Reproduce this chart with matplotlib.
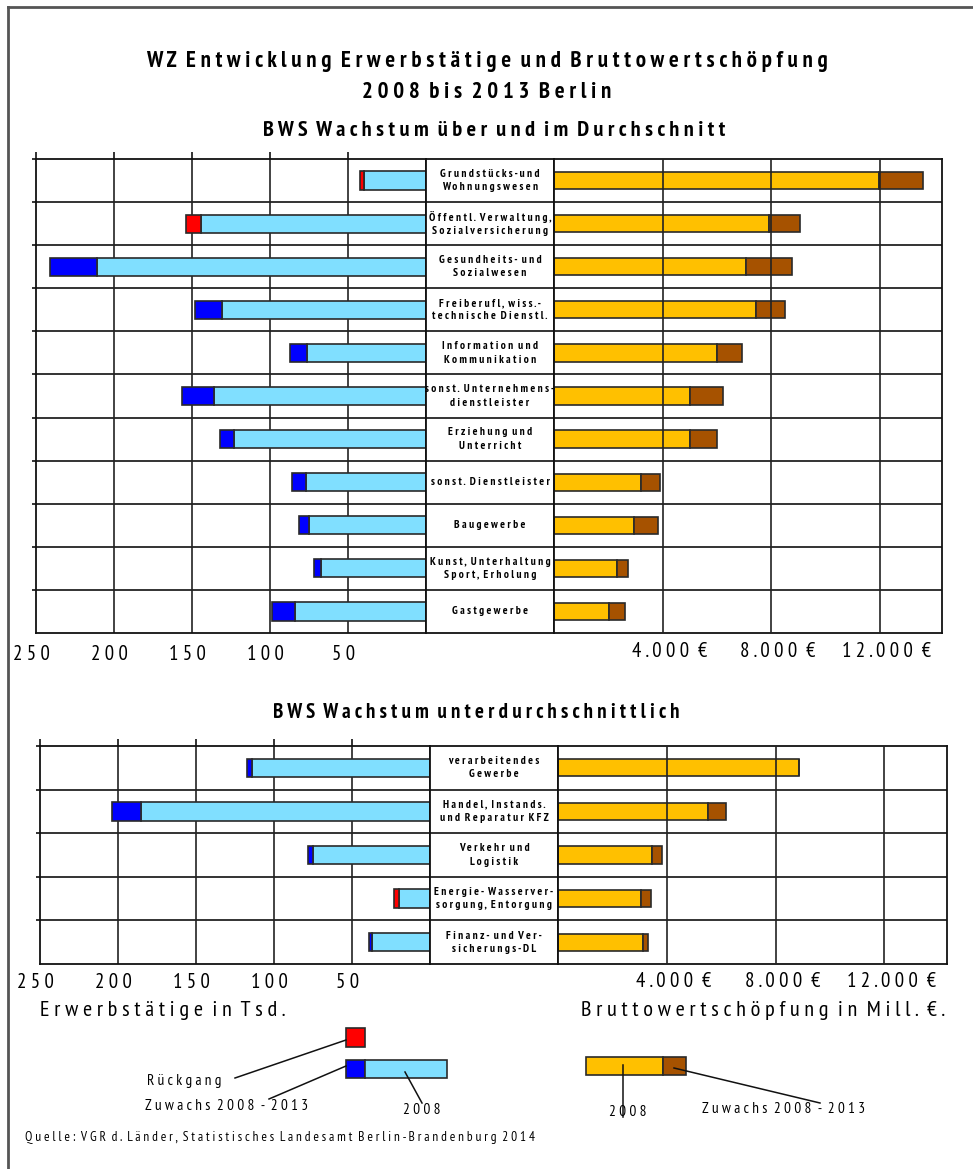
import matplotlib
matplotlib.use('Agg')
import matplotlib.pyplot as plt
from matplotlib import font_manager
import matplotlib.patheffects as pe
import numpy as np

# fonts: look for a narrow / condensed sans (with a bold cut if possible)
entries = font_manager.fontManager.ttflist


def wnum(w):
    if isinstance(w, str):
        return font_manager.weight_dict.get(w, 400)
    return int(w)


groups = {}
for f in entries:
    if 'Narrow' in f.name or 'Condensed' in f.name:
        groups.setdefault(f.name, []).append(wnum(f.weight))
FONT, fs, HAS_BOLD = ['Liberation Sans', 'DejaVu Sans'], 0.82, True
if groups:
    ranked = sorted(groups, key=lambda k: ('Narrow' not in k, max(groups[k]) < 600, k))
    best = ranked[0]
    FONT, fs = [best, 'DejaVu Sans'], 1.0
    HAS_BOLD = max(groups[best]) >= 600
plt.rcParams['font.family'] = FONT

# ---- data ----
top_labels = ['Grundstücks-und\nWohnungswesen', 'Öffentl. Verwaltung,\nSozialversicherung',
              'Gesundheits- und\nSozialwesen', 'Freiberufl, wiss.-\ntechnische Dienstl.',
              'Information und\nKommunikation', 'sonst. Unternehmens-\ndienstleister',
              'Erziehung und\nUnterricht', 'sonst. Dienstleister', 'Baugewerbe',
              'Kunst, Unterhaltung\nSport, Erholung', 'Gastgewerbe']
top_erw_2008 = [40, 144, 211, 131, 76, 136, 123, 77, 75, 67, 84]
top_erw_diff = [-2, -10, 30, 17, 11.5, 20.5, 9, 9, 6.5, 4.5, 15]
top_bws_2008 = [11960, 7940, 7060, 7440, 6020, 5030, 5030, 3210, 2960, 2310, 2030]
top_bws_diff = [1640, 1110, 1730, 1080, 900, 1190, 960, 680, 860, 410, 600]

bot_labels = ['verarbeitendes\nGewerbe', 'Handel, Instands.\nund Reparatur KFZ',
              'Verkehr und\nLogistik', 'Energie- Wasserver-\nsorgung, Entorgung',
              'Finanz- und Ver-\nsicherungs-DL']
bot_erw_2008 = [114, 185, 75, 20, 37]
bot_erw_diff = [3, 19, 3, -3, 2.3]
bot_bws_2008 = [8870, 5500, 3460, 3050, 3130]
bot_bws_diff = [0, 660, 370, 370, 180]

erw_ticks = [250, 200, 150, 100, 50]
bws_ticks = [4000, 8000, 12000]
bws_tick_labels = ['4.000 €', '8.000 €', '12.000 €']

LIGHT = '#80DFFF'
BLUE = '#0000FF'
RED = '#FF0000'
YELLOW = '#FFC000'
BROWN = '#A65200'
EDGE = '#2a2a2a'

W, H = 973, 1169
fig = plt.figure(figsize=(W / 100, H / 100), dpi=100)

# bold text style (stroke a little if the condensed font has no bold cut)
BOLD = dict(fontweight='bold')
if not HAS_BOLD:
    BOLD['path_effects'] = [pe.withStroke(linewidth=0.7, foreground='black')]
BOLD_SMALL = dict(fontweight='bold')
if not HAS_BOLD:
    BOLD_SMALL['path_effects'] = [pe.withStroke(linewidth=0.45, foreground='black')]


def sp(s):
    # letter-spaced text like the original
    return '\n'.join('  '.join(' '.join(w) for w in line.split(' ')) for line in s.split('\n'))


def rect(x0, y0, x1, y1):
    return [x0 / W, 1 - y1 / H, (x1 - x0) / W, (y1 - y0) / H]


def fx(x):
    return x / W


def fy(y):
    return 1 - y / H


def block(y0, y1, xl0, xm, xr, xr1, labels, erw, erw_d, bws, bws_d, lab_y):
    n = len(labels)
    ypos = np.arange(n)
    axl = fig.add_axes(rect(xl0, y0, xm, y1))
    axm = fig.add_axes(rect(xm, y0, xr, y1))
    axr = fig.add_axes(rect(xr, y0, xr1, y1))
    bh = 0.42
    for ax in (axl, axm, axr):
        ax.set_ylim(n - 0.5, -0.5)
        for s in ax.spines.values():
            s.set_color('#111111')
            s.set_linewidth(1.3)
        for k in range(1, n):
            ax.axhline(k - 0.5, color='#111111', lw=1.2, zorder=1)
        ax.set_yticks([])
        ax.set_xticks([])

    # left: employment
    axl.set_xlim(250, 0)
    for v in [50, 100, 150, 200]:
        axl.axvline(v, color='#222222', lw=1.2, zorder=1)
    axl.barh(ypos, erw, height=bh, color=LIGHT, edgecolor=EDGE, lw=1.2, zorder=2)
    cols = [BLUE if d >= 0 else RED for d in erw_d]
    axl.barh(ypos, np.abs(erw_d), left=erw, height=bh, color=cols, edgecolor=EDGE, lw=1.2, zorder=2)
    axl.set_xticks([50, 100, 150, 200, 250])
    axl.tick_params(axis='x', top=True, bottom=False, labelbottom=False, direction='out',
                    length=5, width=1.2, color='#111111')
    axl.set_yticks([k - 0.5 for k in range(n)])
    axl.tick_params(axis='y', left=True, labelleft=False, length=3, width=1.2, color='#111111')
    for v in erw_ticks:
        axl.text(v + 3, lab_y, sp(str(v)), transform=axl.get_xaxis_transform(),
                 ha='center', va='center', fontsize=15 * fs)

    # middle: labels
    axm.set_xlim(0, 1)
    for i, lab in enumerate(labels):
        axm.text(0.5, i, sp(lab), ha='center', va='center', fontsize=8.2 * fs,
                 linespacing=1.4, multialignment='center', **BOLD_SMALL)

    # right: value added
    axr.set_xlim(0, 14300)
    axr.barh(ypos, bws, height=bh * 0.95, left=0, color=YELLOW, edgecolor=EDGE, lw=1.2, zorder=2)
    axr.barh(ypos, bws_d, left=bws, height=bh * 0.95, color=BROWN, edgecolor=EDGE, lw=1.2, zorder=2)
    for v in bws_ticks:
        axr.axvline(v, color='#222222', lw=1.2, zorder=3)
    for v, t in zip(bws_ticks, bws_tick_labels):
        axr.text(v + 250, lab_y + 0.005, sp(t), transform=axr.get_xaxis_transform(),
                 ha='center', va='center', fontsize=15 * fs)
    return axl, axr


# titles
fig.text(0.5, fy(62), sp('WZ Entwicklung Erwerbstätige und Bruttowertschöpfung'),
         ha='center', va='center', fontsize=16.5 * fs, **BOLD)
fig.text(0.5, fy(92), sp('2008 bis 2013 Berlin'), ha='center', va='center',
         fontsize=16.5 * fs, **BOLD)
fig.text(fx(494), fy(130), sp('BWS Wachstum über und im Durchschnitt'), ha='center',
         va='center', fontsize=16 * fs, **BOLD)
fig.text(fx(476), fy(713), sp('BWS Wachstum unterdurchschnittlich'), ha='center',
         va='center', fontsize=15 * fs, **BOLD)

block(159, 633, 36, 426, 554, 942, top_labels, top_erw_2008, top_erw_diff,
      top_bws_2008, top_bws_diff, -0.045)
block(746, 964, 40, 430, 558, 947, bot_labels, bot_erw_2008, bot_erw_diff,
      bot_bws_2008, bot_bws_diff, -0.085)

# axis titles
fig.text(fx(40), fy(1010), sp('Erwerbstätige in Tsd.'), ha='left', va='center',
         fontsize=16 * fs)
fig.text(fx(945), fy(1010), sp('Bruttowertschöpfung in Mill. €.'), ha='right', va='center',
         fontsize=16 * fs)

# legend drawn on an overlay axes in pixel coordinates
lg = fig.add_axes([0, 0, 1, 1], zorder=5)
lg.set_xlim(0, W)
lg.set_ylim(H, 0)
lg.axis('off')
lg.barh([1037], [19], left=346, height=19, color=RED, edgecolor=EDGE, lw=1.2)
lg.barh([1069], [19], left=346, height=18, color=BLUE, edgecolor=EDGE, lw=1.2)
lg.barh([1069], [82], left=365, height=18, color=LIGHT, edgecolor=EDGE, lw=1.2)
lg.barh([1066], [77], left=586, height=18, color=YELLOW, edgecolor=EDGE, lw=1.2)
lg.barh([1066], [23], left=663, height=18, color=BROWN, edgecolor=EDGE, lw=1.2)
leader = dict(color='#111111', lw=1.1)
lg.plot([235, 346], [1078, 1040], **leader)
lg.plot([269, 346], [1099, 1066], **leader)
lg.plot([405, 422], [1072, 1103], **leader)
lg.plot([623, 623], [1065, 1117], **leader)
lg.plot([674, 820], [1068, 1103], **leader)
lg.text(147, 1081, sp('Rückgang'), ha='left', va='center', fontsize=11 * fs)
lg.text(145, 1106, sp('Zuwachs 2008 - 2013'), ha='left', va='center', fontsize=11 * fs)
lg.text(422, 1110, sp('2008'), ha='center', va='center', fontsize=11 * fs)
lg.text(628, 1112, sp('2008'), ha='center', va='center', fontsize=11 * fs)
lg.text(702, 1109, sp('Zuwachs 2008 - 2013'), ha='left', va='center', fontsize=11 * fs)
lg.text(25, 1138, sp('Quelle: VGR d. Länder, Statistisches Landesamt Berlin-Brandenburg 2014'),
        ha='left', va='center', fontsize=9.6 * fs)

# outer frame (top and left edge)
lg.plot([8, W], [7, 7], color='#555555', lw=2, clip_on=False)
lg.plot([8, 8], [7, H], color='#555555', lw=2, clip_on=False)

fig.savefig('out.png', dpi=100)
